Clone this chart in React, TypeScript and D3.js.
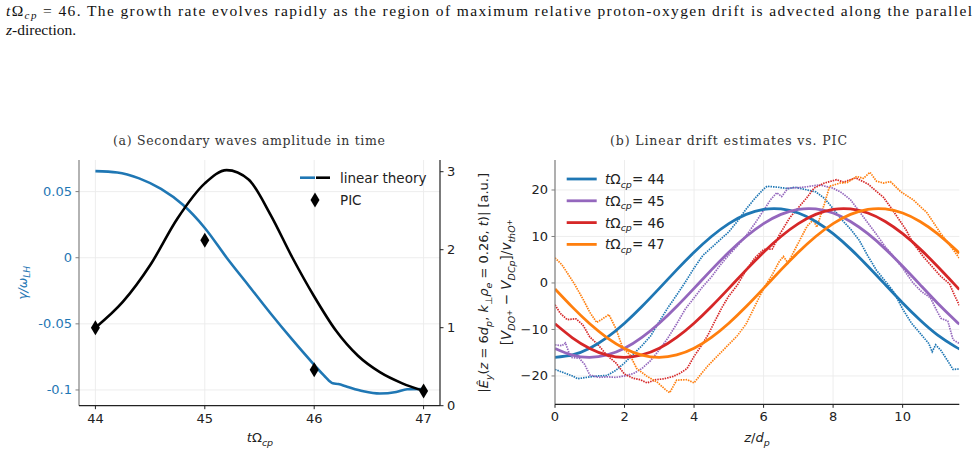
import React from "react";
import * as d3 from "d3";

// ---- panel (a): secondary waves amplitude in time ----
const gammaTime = [44.0, 44.2, 44.4, 44.6, 44.8, 45.0, 45.2, 45.4, 45.6, 45.8, 46.0, 46.1, 46.17, 46.22, 46.3, 46.45, 46.6, 46.75, 46.85, 47.0];
const gammaLinear = [0.0655, 0.0645, 0.06, 0.052, 0.04, 0.0225, 0.0, -0.021, -0.042, -0.062, -0.081, -0.09, -0.095, -0.0955, -0.0975, -0.101, -0.1027, -0.1015, -0.0995, -0.0993];

const ampTime = [44.0, 44.25, 44.5, 44.75, 45.0, 45.2, 45.4, 45.6, 45.8, 46.0, 46.2, 46.4, 46.6, 46.8, 47.0];
const ampLinear = [1.0, 1.33, 1.8, 2.4, 2.85, 3.02, 2.9, 2.45, 1.9, 1.4, 0.96, 0.64, 0.43, 0.29, 0.19];

const picTime = [44, 45, 46, 47];
const picAmp = [1.0, 2.12, 0.46, 0.19];

const aXTicks = [44, 45, 46, 47];
const aLeftTicks = [0.05, 0, -0.05, -0.1];
const aLeftLabels = ["0.05", "0", "-0.05", "-0.1"];
const aRightTicks = [0, 1, 2, 3];

// ---- panel (b): linear drift estimates vs PIC ----
const zGrid = [0, 0.5, 1, 1.5, 2, 2.5, 3, 3.5, 4, 4.5, 5, 5.5, 6, 6.5, 7, 7.5, 8, 8.5, 9, 9.5, 10, 10.5, 11, 11.5, 11.63];
const drift44 = [-16.0, -15.49, -14.05, -11.7, -8.65, -5.06, -1.16, 2.81, 6.6, 9.99, 12.76, 14.75, 15.82, 15.92, 15.04, 13.23, 10.6, 7.33, 3.59, -0.36, -4.3, -7.97, -11.16, -13.64, -14.16];
const drift45 = [-14.08, -15.52, -16.0, -15.49, -14.05, -11.7, -8.65, -5.06, -1.16, 2.81, 6.6, 9.99, 12.76, 14.75, 15.82, 15.92, 15.04, 13.23, 10.6, 7.33, 3.59, -0.36, -4.3, -7.97, -8.85];
const drift46 = [-8.78, -11.79, -14.08, -15.52, -16.0, -15.49, -14.05, -11.7, -8.65, -5.06, -1.16, 2.81, 6.6, 9.99, 12.76, 14.75, 15.82, 15.92, 15.04, 13.23, 10.6, 7.33, 3.59, -0.36, -1.4];
const drift47 = [-1.29, -5.2, -8.78, -11.79, -14.08, -15.52, -16.0, -15.49, -14.05, -11.7, -8.65, -5.06, -1.16, 2.81, 6.6, 9.99, 12.76, 14.75, 15.82, 15.92, 15.04, 13.23, 10.6, 7.33, 6.39];

const pic44: [number, number][] = [
  [0, -18.6], [0.25, -19.3], [0.5, -20.0], [0.65, -20.6], [1.0, -20.2], [1.25, -20.0], [1.5, -19.9], [1.75, -18.8],
  [2.0, -17.2], [2.25, -15.3], [2.5, -13.5], [2.75, -11.4], [3.0, -8.3], [3.25, -5.3], [3.5, -2.6], [3.75, 0.2],
  [4.0, 3.2], [4.25, 5.9], [4.5, 7.6], [4.75, 9.3], [5.0, 11.0], [5.25, 13.3], [5.5, 15.9], [5.75, 18.2],
  [6.0, 20.2], [6.1, 20.8], [6.4, 20.6], [6.7, 20.3], [6.9, 20.6], [7.2, 20.1], [7.5, 19.6], [7.75, 18.2],
  [8.0, 16.0], [8.25, 13.6], [8.5, 11.6], [8.75, 9.2], [9.0, 5.8], [9.25, 2.7], [9.5, 0.4], [9.75, -2.0],
  [10.0, -5.6], [10.25, -8.6], [10.5, -10.8], [10.75, -13.0], [10.85, -14.8], [10.95, -13.3], [11.1, -14.5],
  [11.3, -16.8], [11.45, -18.6], [11.63, -18.5],
];
const pic45: [number, number][] = [
  [0, -13.3], [0.2, -13.5], [0.3, -12.9], [0.45, -16.0], [0.7, -16.2], [0.85, -17.5], [1.0, -19.8], [1.25, -20.3],
  [1.5, -20.2], [1.75, -20.3], [2.0, -20.0], [2.25, -19.5], [2.5, -18.4], [2.75, -16.7], [3.0, -14.4], [3.25, -11.8],
  [3.5, -8.8], [3.75, -5.6], [4.0, -3.2], [4.25, -0.8], [4.5, 1.3], [4.75, 3.8], [5.0, 6.0], [5.25, 8.0],
  [5.5, 10.2], [5.75, 12.8], [6.0, 15.6], [6.2, 17.9], [6.38, 19.4], [6.52, 18.6], [6.7, 20.4], [7.0, 20.5],
  [7.25, 20.7], [7.6, 21.1], [8.0, 20.4], [8.25, 19.4], [8.5, 17.9], [8.75, 15.4], [9.0, 12.9], [9.25, 10.4],
  [9.5, 7.8], [9.75, 5.6], [10.0, 3.2], [10.3, 0.0], [10.55, -1.9], [10.8, -3.2], [11.0, -6.2], [11.1, -7.6],
  [11.3, -8.2], [11.45, -12.2], [11.63, -13.0],
];
const pic46: [number, number][] = [
  [0, -4.7], [0.15, -6.5], [0.35, -7.9], [0.6, -7.7], [0.8, -9.0], [1.0, -11.6], [1.25, -13.4], [1.5, -15.6],
  [1.75, -17.2], [2.0, -19.6], [2.25, -20.5], [2.45, -20.8], [2.65, -21.5], [2.9, -20.8], [3.15, -20.6], [3.4, -20.1],
  [3.6, -19.4], [3.8, -18.4], [4.0, -15.8], [4.2, -13.6], [4.4, -11.2], [4.6, -8.2], [4.8, -5.3], [5.0, -2.8],
  [5.25, -0.4], [5.5, 2.8], [5.75, 5.4], [6.0, 7.2], [6.25, 7.3], [6.45, 10.3], [6.75, 14.0], [7.0, 16.2],
  [7.25, 18.4], [7.45, 20.4], [7.75, 21.5], [8.1, 22.2], [8.3, 21.7], [8.65, 22.6], [9.0, 21.3], [9.2, 20.0],
  [9.45, 18.4], [9.7, 15.8], [9.9, 13.6], [10.1, 11.4], [10.3, 8.6], [10.6, 5.6], [10.85, 3.5], [11.1, 1.4],
  [11.35, -0.2], [11.5, -2.8], [11.63, -4.8],
];
const pic47: [number, number][] = [
  [0, 5.4], [0.2, 3.9], [0.35, 2.2], [0.55, -0.1], [0.8, -3.4], [1.0, -6.3], [1.2, -8.5], [1.35, -7.8],
  [1.55, -6.8], [1.75, -9.8], [1.95, -14.0], [2.15, -15.4], [2.35, -18.4], [2.65, -20.1], [2.95, -21.4], [3.2, -23.1],
  [3.3, -23.6], [3.5, -20.9], [3.8, -20.8], [4.0, -21.5], [4.2, -19.6], [4.4, -17.8], [4.7, -15.5], [4.95, -13.6],
  [5.25, -11.3], [5.5, -8.8], [5.75, -5.0], [6.0, -1.2], [6.25, 1.8], [6.45, 4.6], [6.57, 5.7], [6.7, 4.3],
  [6.95, 7.9], [7.25, 12.2], [7.43, 13.6], [7.53, 12.0], [7.75, 17.0], [7.9, 20.8], [8.2, 21.5], [8.4, 21.6],
  [8.68, 22.9], [8.87, 22.5], [9.06, 23.8], [9.25, 21.9], [9.45, 21.5], [9.65, 21.8], [9.95, 19.6], [10.3, 17.9],
  [10.7, 15.1], [11.1, 10.6], [11.45, 7.2], [11.63, 5.3],
];

const seriesLabels = ["44", "45", "46", "47"];
const seriesColors = ["#1f77b4", "#9467bd", "#d62728", "#ff7f0e"];
const driftLinear = [drift44, drift45, drift46, drift47];
const driftPic = [pic44, pic45, pic46, pic47];

const bXTicks = [0, 2, 4, 6, 8, 10];
const bYTicks = [-20, -10, 0, 10, 20];

const SANS = "DejaVu Sans, sans-serif";
const SERIF = "DejaVu Serif, serif";
const GRID = "#ebebeb";

export default function App() {
  // panel a scales
  const ax = d3.scaleLinear().domain([43.85, 47.15]).range([79, 440]);
  const ayL = d3.scaleLinear().domain([-0.1119, 0.0739]).range([405.7, 160]);
  const ayR = d3.scaleLinear().domain([0, 3.15]).range([405.7, 160]);
  const aTop = ayL.range()[1];
  const aBot = ayL.range()[0];
  const [aLeft, aRight] = ax.range();

  // panel b scales
  const bx = d3.scaleLinear().domain([0, 11.63]).range([555, 959.3]);
  const by = d3.scaleLinear().domain([-26.1, 26.45]).range([404.3, 160]);
  const bTop = by.range()[1];
  const bBot = by.range()[0];
  const [bLeft, bRight] = bx.range();

  const gammaLine = d3
    .line<number>()
    .x((d, i) => ax(gammaTime[i]))
    .y((d) => ayL(d))
    .curve(d3.curveMonotoneX);
  const ampLine = d3
    .line<number>()
    .x((d, i) => ax(ampTime[i]))
    .y((d) => ayR(d))
    .curve(d3.curveMonotoneX);
  const driftLine = d3
    .line<number>()
    .x((d, i) => bx(zGrid[i]))
    .y((d) => by(d))
    .curve(d3.curveNatural);
  const picLine = d3
    .line<[number, number]>()
    .x((d) => bx(d[0]))
    .y((d) => by(d[1]));

  const thinDiamond = "M0,-7.5L4.5,0L0,7.5L-4.5,0Z";

  return (
    <div style={{ position: "absolute", left: 0, top: 0 }}>
      <svg width={977} height={451} style={{ display: "block", background: "#fff" }}>
        <defs>
          <clipPath id="clipB">
            <rect x={bLeft} y={bTop} width={bRight - bLeft} height={bBot - bTop} />
          </clipPath>
        </defs>

        {/* caption text above the figure */}
        <text x={6} y={16} fontFamily="Liberation Serif, serif" fontSize={15.5} fill="#111" textLength={966} lengthAdjust="spacing">
          <tspan fontStyle="italic">t</tspan>Ω<tspan fontStyle="italic" fontSize={11} dy={3}>cp</tspan>
          <tspan dy={-3}> = 46. The growth rate evolves rapidly as the region of maximum relative proton-oxygen drift is advected along the parallel</tspan>
        </text>
        <text x={6} y={35} fontFamily="Liberation Serif, serif" fontSize={15.5} fill="#111">
          <tspan fontStyle="italic">z</tspan>-direction.
        </text>

        {/* ============ panel (a) ============ */}
        <text x={249} y={145} textAnchor="middle" fontFamily={SERIF} fontSize={12.5} fill="#333" textLength={272} lengthAdjust="spacing">
          (a) Secondary waves amplitude in time
        </text>
        <g>
          {aXTicks.map((t) => (
            <line key={"ag" + t} x1={ax(t)} x2={ax(t)} y1={aTop} y2={aBot} stroke={GRID} strokeWidth={0.9} />
          ))}
          {aLeftTicks.map((t) => (
            <line key={"agy" + t} x1={aLeft} x2={aRight} y1={ayL(t)} y2={ayL(t)} stroke={GRID} strokeWidth={0.9} />
          ))}
        </g>
        <path d={gammaLine(gammaLinear) || ""} fill="none" stroke="#1f77b4" strokeWidth={2.6} />
        <path d={ampLine(ampLinear) || ""} fill="none" stroke="#000" strokeWidth={2.6} />
        {picTime.map((t, i) => (
          <path key={"pic" + t} d={thinDiamond} transform={`translate(${ax(t)},${ayR(picAmp[i])})`} fill="#000" />
        ))}
        {/* spines */}
        <line x1={aLeft} x2={aLeft} y1={aTop} y2={aBot} stroke="#808080" strokeWidth={1.2} />
        <line x1={aRight} x2={aRight} y1={aTop} y2={aBot} stroke="#222" strokeWidth={1.2} />
        <line x1={aLeft} x2={aRight} y1={aBot} y2={aBot} stroke="#222" strokeWidth={1.2} />
        {/* x ticks */}
        {aXTicks.map((t) => (
          <g key={"axt" + t}>
            <line x1={ax(t)} x2={ax(t)} y1={aBot} y2={aBot + 3.5} stroke="#222" />
            <text x={ax(t)} y={aBot + 17} textAnchor="middle" fontFamily={SANS} fontSize={13} fill="#222">
              {t}
            </text>
          </g>
        ))}
        {/* left y ticks */}
        {aLeftTicks.map((t, i) => (
          <g key={"aly" + t}>
            <line x1={aLeft - 3.5} x2={aLeft} y1={ayL(t)} y2={ayL(t)} stroke="#808080" />
            <text x={aLeft - 7} y={ayL(t) + 4.5} textAnchor="end" fontFamily={SANS} fontSize={13} fill="#1f77b4">
              {aLeftLabels[i]}
            </text>
          </g>
        ))}
        {/* right y ticks */}
        {aRightTicks.map((t) => (
          <g key={"ary" + t}>
            <line x1={aRight} x2={aRight + 3.5} y1={ayR(t)} y2={ayR(t)} stroke="#222" />
            <text x={aRight + 7} y={ayR(t) + 4.5} textAnchor="start" fontFamily={SANS} fontSize={13} fill="#222">
              {t}
            </text>
          </g>
        ))}
        {/* axis labels */}
        <text x={260} y={442} textAnchor="middle" fontFamily={SANS} fontSize={13} fill="#222">
          <tspan fontStyle="italic">t</tspan>Ω<tspan fontStyle="italic" fontSize={9.5} dy={3.5}>cp</tspan>
        </text>
        <text transform={`translate(27,${(aTop + aBot) / 2}) rotate(-90)`} textAnchor="middle" fontFamily={SANS} fontSize={12.5} fill="#1f77b4" fontStyle="italic">
          γ/ω<tspan fontSize={9} dy={3}>LH</tspan>
        </text>
        <text transform={`translate(488,${(aTop + aBot) / 2}) rotate(-90)`} textAnchor="middle" fontFamily={SANS} fontSize={13} fill="#222">
          |<tspan fontStyle="italic">Ê</tspan><tspan fontStyle="italic" fontSize={9.5} dy={3.5}>y</tspan>
          <tspan dy={-3.5}>(</tspan><tspan fontStyle="italic">z</tspan> = 6<tspan fontStyle="italic">d</tspan>
          <tspan fontStyle="italic" fontSize={9.5} dy={3.5}>p</tspan><tspan dy={-3.5}>, </tspan>
          <tspan fontStyle="italic">k</tspan><tspan fontSize={9.5} dy={3.5}>⊥</tspan>
          <tspan dy={-3.5} fontStyle="italic">ρ</tspan><tspan fontStyle="italic" fontSize={9.5} dy={3.5}>e</tspan>
          <tspan dy={-3.5}> = 0.26, </tspan><tspan fontStyle="italic">t</tspan>)| [a.u.]
        </text>
        {/* legend (a) */}
        <line x1={300} x2={315} y1={177.7} y2={177.7} stroke="#1f77b4" strokeWidth={2.6} />
        <line x1={316} x2={330} y1={177.7} y2={177.7} stroke="#000" strokeWidth={2.6} />
        <text x={340} y={182.5} fontFamily={SANS} fontSize={13.5} fill="#222">linear theory</text>
        <path d={thinDiamond} transform="translate(315,200)" fill="#000" />
        <text x={340} y={205} fontFamily={SANS} fontSize={13.5} fill="#222">PIC</text>

        {/* ============ panel (b) ============ */}
        <text x={728.5} y={145} textAnchor="middle" fontFamily={SERIF} fontSize={12.5} fill="#333" textLength={237} lengthAdjust="spacing">
          (b) Linear drift estimates vs. PIC
        </text>
        <g>
          {bXTicks.map((t) => (
            <line key={"bg" + t} x1={bx(t)} x2={bx(t)} y1={bTop} y2={bBot} stroke={GRID} strokeWidth={0.9} />
          ))}
          {bYTicks.map((t) => (
            <line key={"bgy" + t} x1={bLeft} x2={bRight} y1={by(t)} y2={by(t)} stroke={GRID} strokeWidth={0.9} />
          ))}
        </g>
        <g clipPath="url(#clipB)">
          {driftPic.map((pts, i) => (
            <path key={"bp" + i} d={picLine(pts) || ""} fill="none" stroke={seriesColors[i]} strokeWidth={1.7} strokeDasharray="1.5 1" />
          ))}
          {driftLinear.map((vals, i) => (
            <path key={"bl" + i} d={driftLine(vals) || ""} fill="none" stroke={seriesColors[i]} strokeWidth={2.8} />
          ))}
        </g>
        <line x1={bLeft} x2={bLeft} y1={bTop} y2={bBot} stroke="#808080" strokeWidth={1.2} />
        <line x1={bLeft} x2={bRight} y1={bBot} y2={bBot} stroke="#222" strokeWidth={1.2} />
        {bXTicks.map((t) => (
          <g key={"bxt" + t}>
            <line x1={bx(t)} x2={bx(t)} y1={bBot} y2={bBot + 3.5} stroke="#222" />
            <text x={bx(t)} y={bBot + 17} textAnchor="middle" fontFamily={SANS} fontSize={13} fill="#222">
              {d3.format("d")(t)}
            </text>
          </g>
        ))}
        {bYTicks.map((t) => (
          <g key={"byt" + t}>
            <line x1={bLeft - 3.5} x2={bLeft} y1={by(t)} y2={by(t)} stroke="#808080" />
            <text x={bLeft - 7} y={by(t) + 4.5} textAnchor="end" fontFamily={SANS} fontSize={13} fill="#222">
              {d3.format("d")(t)}
            </text>
          </g>
        ))}
        <text x={757} y={442} textAnchor="middle" fontFamily={SANS} fontSize={13} fill="#222">
          <tspan fontStyle="italic">z</tspan>/<tspan fontStyle="italic">d</tspan>
          <tspan fontStyle="italic" fontSize={9.5} dy={3.5}>p</tspan>
        </text>
        <text transform={`translate(511,${(bTop + bBot) / 2}) rotate(-90)`} textAnchor="middle" fontFamily={SANS} fontSize={13.5} fill="#222">
          [<tspan fontStyle="italic">V</tspan><tspan fontStyle="italic" fontSize={9.5} dy={3.5}>DO</tspan>
          <tspan fontSize={7.5} dy={-3}>+</tspan><tspan dy={-0.5}> − </tspan>
          <tspan fontStyle="italic">V</tspan><tspan fontStyle="italic" fontSize={9.5} dy={3.5}>DCp</tspan>
          <tspan dy={-3.5}>]/</tspan><tspan fontStyle="italic">v</tspan>
          <tspan fontStyle="italic" fontSize={9.5} dy={3.5}>thO</tspan><tspan fontSize={7.5} dy={-3}>+</tspan>
        </text>
        {/* legend (b) */}
        {seriesLabels.map((lab, i) => {
          const y = 179 + i * 21.8;
          return (
            <g key={"lg" + lab}>
              <line x1={566.7} x2={596.7} y1={y} y2={y} stroke={seriesColors[i]} strokeWidth={2.8} />
              <text x={605} y={y + 5} fontFamily={SANS} fontSize={13.5} fill="#222">
                <tspan fontStyle="italic">t</tspan>Ω<tspan fontStyle="italic" fontSize={9.5} dy={3.5}>cp</tspan>
                <tspan dy={-3.5}>= {lab}</tspan>
              </text>
            </g>
          );
        })}
      </svg>
    </div>
  );
}
